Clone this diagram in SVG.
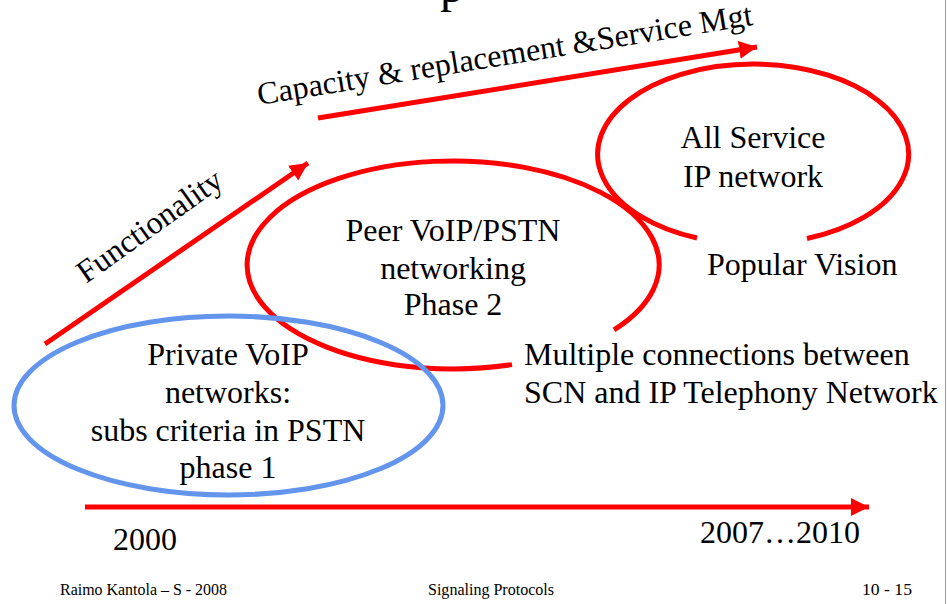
<svg xmlns="http://www.w3.org/2000/svg" width="947" height="604" viewBox="0 0 947 604">
  <style>
    text { font-family: "Liberation Serif", "Times New Roman", serif; fill: #000; }
    .big { font-size: 32px; }
    .mid { text-anchor: middle; }
    .foot { font-size: 16px; }
    .red { fill: none; stroke: #ff0000; stroke-width: 5; }
    .blue { fill: none; stroke: #6495ed; stroke-width: 5; }
    .arrow { fill: none; stroke: #ff0000; stroke-width: 5; }
  </style>
  <defs>
    <marker id="head" markerUnits="userSpaceOnUse" markerWidth="20" markerHeight="20" refX="18" refY="9" orient="auto">
      <path d="M0,0 L18,9 L0,18 Z" fill="#ff0000"/>
    </marker>
  </defs>
  <rect x="0" y="0" width="947" height="604" fill="#fff"/>
  <line x1="945.5" y1="0" x2="945.5" y2="604" stroke="#999" stroke-width="1"/>

  <!-- descender of the slide title, cut by the top edge -->
  <text x="440" y="2" style="font-size:48px">p</text>

  <!-- stage ellipses -->
  <g id="phase2">
    <path class="red" d="M512,364.6 A206,104 0 1 1 614,329.9"/>
    <text class="big mid" x="453" y="241">Peer VoIP/PSTN</text>
    <text class="big mid" x="453" y="279">networking</text>
    <text class="big mid" x="453" y="315">Phase 2</text>
  </g>
  <g id="vision">
    <path class="red" d="M697,238 A155.5,90 0 1 1 807,238.5"/>
    <text class="big mid" x="753" y="148">All Service</text>
    <text class="big mid" x="753" y="187">IP network</text>
  </g>
  <g id="phase1">
    <ellipse class="blue" cx="228.5" cy="405.5" rx="214.5" ry="89.5"/>
    <text class="big mid" x="228" y="365">Private VoIP</text>
    <text class="big mid" x="228" y="403">networks:</text>
    <text class="big mid" x="228" y="441">subs criteria in PSTN</text>
    <text class="big mid" x="228" y="478">phase 1</text>
  </g>
  <g id="popular-vision">
    <text class="big" x="707" y="275">Popular Vision</text>
  </g>
  <g id="multiple-connections">
    <text class="big" x="524" y="365">Multiple connections between</text>
    <text class="big" x="524" y="403">SCN and IP Telephony Network</text>
  </g>

  <!-- axes -->
  <g id="connectors">
    <line class="arrow" x1="45" y1="344" x2="308" y2="163" marker-end="url(#head)"/>
    <line class="arrow" x1="318" y1="118" x2="757" y2="47" marker-end="url(#head)"/>
    <line class="arrow" x1="85" y1="507" x2="869" y2="507" stroke-width="6" marker-end="url(#head)"/>
  </g>
  <g id="axis-labels">
    <text class="big" transform="translate(259,105) rotate(-9.2)">Capacity &amp; replacement &amp;Service Mgt</text>
    <text class="big" transform="translate(86,284) rotate(-35.5)">Functionality</text>
    <text class="big" x="113" y="550">2000</text>
    <text class="big" x="700" y="543">2007…2010</text>
  </g>

  <!-- footer -->
  <g id="footer">
    <text class="foot" x="60" y="595" textLength="167" lengthAdjust="spacingAndGlyphs">Raimo Kantola – S - 2008</text>
    <text class="foot" x="428" y="595" textLength="126" lengthAdjust="spacingAndGlyphs">Signaling Protocols</text>
    <text class="foot" x="862" y="595" textLength="50" lengthAdjust="spacingAndGlyphs">10 - 15</text>
  </g>
</svg>
